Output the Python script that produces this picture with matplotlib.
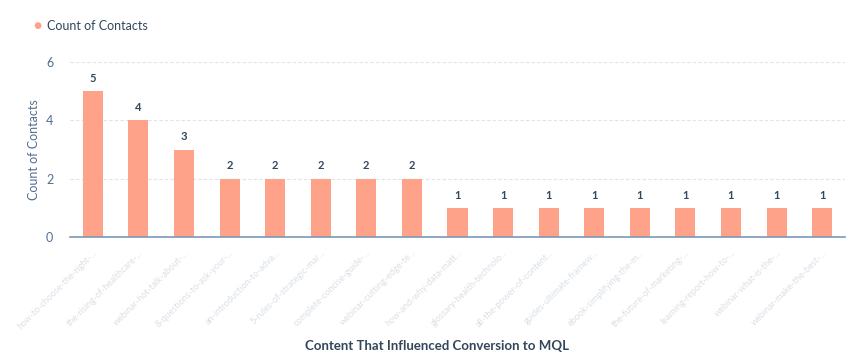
import numpy as np
import matplotlib.pyplot as plt

plt.rcParams['font.family'] = ['Lato', 'DejaVu Sans']

# Data (labels are blurred in the source, so placeholders stand in)
content = ['how-to-choose-the-right-...', 'the-rising-of-healthcare-...', 'webinar-hot-talk-about-...',
           '8-questions-to-ask-your-...', 'an-introduction-to-adva...', '5-rules-of-strategic-mar...',
           'complete-concise-guide-...', 'webinar-cutting-edge-te...', 'how-and-why-data-matt...',
           'glossary-health-technolo...', 'all-the-power-of-content...', 'guides-ultimate-framew...',
           'ebook-simplifying-the-m...', 'the-future-of-marketing-...', 'learning-report-how-to-...',
           'webinar-what-is-the-...', 'webinar-make-the-best-...']
contacts = [5, 4, 3, 2, 2, 2, 2, 2, 1, 1, 1, 1, 1, 1, 1, 1, 1]

bar_color = '#fea28a'
text_dark = '#33475b'
tick_gray = '#516f90'

fig = plt.figure(figsize=(8.6, 3.64), dpi=100)
ax = fig.add_axes([70 / 860, 1 - 237 / 364, 775 / 860, 175 / 364])

x = np.arange(len(contacts))
ax.bar(x, contacts, width=0.44, color=bar_color, zorder=3)
for xi, v in zip(x, contacts):
    ax.text(xi, v + 0.25, str(v), ha='center', va='bottom', fontsize=8,
            fontweight='bold', color=text_dark)

ax.set_xlim(-0.5, len(contacts) - 0.5)
ax.set_ylim(0, 6)
ax.set_yticks([0, 2, 4, 6])
ax.yaxis.grid(True, color='#dfe3eb', linestyle=(0, (3, 2)), linewidth=0.8, zorder=0)
for s in ['top', 'right', 'left']:
    ax.spines[s].set_visible(False)
ax.spines['bottom'].set_color('#7c98b6')
ax.spines['bottom'].set_linewidth(1.2)
ax.spines['bottom'].set_zorder(4)
ax.tick_params(axis='y', length=0, labelsize=9, labelcolor=tick_gray, pad=12)
ax.tick_params(axis='x', length=0, pad=8)

ax.set_xticks(x)
ax.set_xticklabels(content, rotation=45, ha='right', rotation_mode='anchor',
                   fontsize=6.5, color='#c3ccd6', alpha=0.6)

ax.set_ylabel('Count of Contacts', fontsize=9, color=tick_gray, labelpad=4)
fig.text(437 / 860, 1 - 346 / 364, 'Content That Influenced Conversion to MQL',
         ha='center', va='center', fontsize=9.5, fontweight='bold', color=text_dark)

# legend
fig.text(37 / 860, 1 - 26 / 364, '\u25CF', ha='center', va='center', fontsize=10,
         color=bar_color)
fig.text(47 / 860, 1 - 26 / 364, 'Count of Contacts', ha='left', va='center',
         fontsize=9, color=text_dark)

fig.savefig('out.png', dpi=100)
